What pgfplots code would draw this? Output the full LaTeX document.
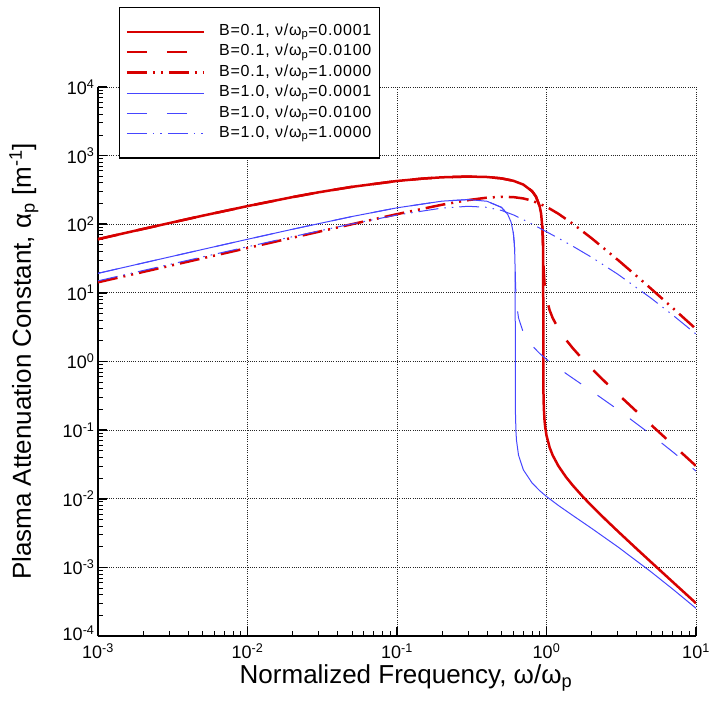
\documentclass[border=0pt]{standalone}
\usepackage{fontspec}
\setmainfont{Liberation Sans}
\newfontfamily\legfont[LetterSpace=5]{Liberation Sans}
\usepackage{pgfplots}
\pgfplotsset{compat=1.18}
\definecolor{cred}{RGB}{215,0,0}
\definecolor{cblue}{RGB}{70,70,255}
\begin{document}
\begin{tikzpicture}
\begin{axis}[
 scale only axis, width=598pt, height=549pt,
 xmode=log, ymode=log,
 xmin=1e-3, xmax=10, ymin=1e-4, ymax=1e4,
 axis x line*=bottom, axis y line*=left,
 axis line style={line width=2pt,-},
 xtick={0.001,0.01,0.1,1,10},
 xticklabels={10\textsuperscript{-3},10\textsuperscript{-2},10\textsuperscript{-1},10\textsuperscript{0},10\textsuperscript{1}},
 ytick={1e-4,1e-3,1e-2,1e-1,1,10,100,1000,10000},
 yticklabels={\raisebox{5pt}{10\textsuperscript{-4}},10\textsuperscript{-3},10\textsuperscript{-2},10\textsuperscript{-1},10\textsuperscript{0},10\textsuperscript{1},10\textsuperscript{2},10\textsuperscript{3},10\textsuperscript{4}},
 minor xtick={0.002,0.003,0.004,0.005,0.006,0.007,0.008,0.009,0.02,0.03,0.04,0.05,0.06,0.07,0.08,0.09,0.2,0.3,0.4,0.5,0.6,0.7,0.8,0.9,2,3,4,5,6,7,8,9},
 minor ytick={2e-4,3e-4,4e-4,5e-4,6e-4,7e-4,8e-4,9e-4,2e-3,3e-3,4e-3,5e-3,6e-3,7e-3,8e-3,9e-3,2e-2,3e-2,4e-2,5e-2,6e-2,7e-2,8e-2,9e-2,0.2,0.3,0.4,0.5,0.6,0.7,0.8,0.9,2,3,4,5,6,7,8,9,20,30,40,50,60,70,80,90,200,300,400,500,600,700,800,900,2000,3000,4000,5000,6000,7000,8000,9000},
 tick align=inside,
 major tick length=9pt, minor tick length=5pt,
 every major tick/.append style={line width=1.6pt, black},
 every minor tick/.append style={line width=0.9pt, black},
 grid=major,
 major grid style={black!85, line width=0.9pt, dash pattern=on 1pt off 1.2pt},
 tick label style={font=\fontsize{18}{18}\selectfont},
 xticklabel style={yshift=-4pt},
 xlabel={Normalized Frequency, ω/ω\textsubscript{p}},
 ylabel={Plasma Attenuation Constant, α\textsubscript{p} [m\textsuperscript{-1}]},
 label style={font=\fontsize{26}{26}\selectfont},
 xlabel style={at={(axis description cs:0.515,-0.0767)}, anchor=center},
 ylabel style={at={(axis description cs:-0.124,0.5)}, anchor=center},
 legend style={at={(axis description cs:0.0351,1.1457)}, anchor=north west, draw=black, line width=1.2pt, fill=white,
   font=\legfont\fontsize{16}{16}\selectfont, inner xsep=6pt, inner ysep=14pt, row sep=0pt,
   nodes={inner ysep=3pt, text height=10.8pt, text depth=3.6pt},
   /tikz/every odd column/.append style={column sep=12pt}},
 legend cell align=left,
 legend image code/.code={\draw[#1] (0pt,0pt) -- (77pt,0pt);},
]
\addplot[cred, line width=2.5pt, line join=round] coordinates {
(0.001,60.7) (0.002,85.4) (0.005,133.1) (0.01,183.8) (0.02,248.7) (0.03,292.5) (0.05,350.8) (0.1,427) (0.15,463.6) (0.2,482.9) (0.3,495.6) (0.4,488) (0.5,466) (0.6,430) (0.7,378.5) (0.8,304.3) (0.85,253.2) (0.9,183) (0.92,143.8) (0.94,86.8) (0.945,64.8) (0.948,46.8) (0.95,29.0) (0.9505,22.5) (0.951,13.0) (0.9512,6.33) (0.95125,4.0) (0.9513,2.53) (0.9515,1.233) (0.952,0.711) (0.955,0.317) (0.96,0.2064) (0.97,0.1394) (0.98,0.1113) (1.0,0.0836) (1.05,0.05563) (1.1,0.04302) (1.2,0.03012) (1.35,0.02074) (1.5,0.0156) (1.75,0.01072) (2,0.007923) (2.5,0.004905) (3,0.00336) (4,0.001872) (5,0.001196) (7,0.0006112) (10,0.0003005)
};
\addlegendentry{B=0.1, ν/ω\textsubscript{p}=0.0001}
\addplot[cred, line width=2.5pt, dash pattern=on 20pt off 20pt] coordinates {
(0.001,60.5) (0.002,85.3) (0.005,133) (0.01,183.3) (0.02,248.5) (0.03,292.4) (0.05,350.7) (0.1,427) (0.15,463.6) (0.2,482.9) (0.3,495.6) (0.4,488) (0.5,466) (0.6,430) (0.7,378.5) (0.8,304.3) (0.85,253.2) (0.9,183.1) (0.92,144.1) (0.94,88.5) (0.95,45.4) (0.955,27.66) (0.96,19.94) (0.97,13.82) (0.98,11.09) (0.99,9.45) (1.0,8.35) (1.05,5.563) (1.1,4.302) (1.2,3.012) (1.35,2.074) (1.5,1.56) (1.75,1.072) (2,0.7923) (2.5,0.4905) (3,0.336) (4,0.1872) (5,0.1196) (7,0.06112) (10,0.03005)
};
\addlegendentry{B=0.1, ν/ω\textsubscript{p}=0.0100}
\addplot[cred, line width=2.5pt, dash pattern=on 20pt off 6pt on 2pt off 6pt on 2pt off 6pt] coordinates {
(0.001,14.27) (0.002,20.17) (0.005,31.88) (0.01,45.07) (0.02,63.66) (0.05,100.2) (0.1,140.3) (0.2,192.5) (0.3,225.1) (0.4,244) (0.5,251.3) (0.6,248.6) (0.7,237.6) (0.8,220.7) (1.0,179.8) (1.2,142.3) (1.5,101.5) (2,62.7) (3,30.26) (4,17.64) (5,11.51) (7,5.992) (10,2.976)
};
\addlegendentry{B=0.1, ν/ω\textsubscript{p}=1.0000}
\addplot[cblue, line width=1pt] coordinates {
(0.001,19.27) (0.002,27.23) (0.005,42.92) (0.01,60.39) (0.02,84.54) (0.05,129.6) (0.1,173.5) (0.2,217.1) (0.3,228.9) (0.4,216.3) (0.5,176.1) (0.55,139.6) (0.58,106.9) (0.6,74.7) (0.61,50.2) (0.615,30.98) (0.617,18.1) (0.6175,13.0) (0.6178,8.63) (0.618,3.52) (0.61803,2.10) (0.6181,0.931) (0.619,0.2506) (0.62,0.1756) (0.625,0.0931) (0.63,0.07093) (0.65,0.04309) (0.7,0.02641) (0.8,0.01703) (0.9,0.01311) (1.0,0.01078) (1.2,0.007995) (1.5,0.005699) (2,0.003712) (3,0.001991) (5,0.0008617) (7,0.0004809) (10,0.0002532)
};
\addlegendentry{B=1.0, ν/ω\textsubscript{p}=0.0001}
\addplot[cblue, line width=1pt, dash pattern=on 20pt off 20pt] coordinates {
(0.001,19.27) (0.002,27.23) (0.005,42.92) (0.01,60.39) (0.02,84.54) (0.05,129.6) (0.1,173.5) (0.2,217.1) (0.3,228.9) (0.4,216.3) (0.5,176.1) (0.55,139.6) (0.58,106.9) (0.6,74.9) (0.61,50.9) (0.615,33.55) (0.618,21.02) (0.62,15.03) (0.625,9.134) (0.63,7.044) (0.65,4.308) (0.7,2.641) (0.8,1.703) (0.9,1.311) (1.0,1.078) (1.2,0.7995) (1.5,0.5699) (2,0.3712) (3,0.1991) (5,0.08617) (7,0.04809) (10,0.02532)
};
\addlegendentry{B=1.0, ν/ω\textsubscript{p}=0.0100}
\addplot[cblue, line width=1pt, dash pattern=on 20pt off 6pt on 1.5pt off 6pt on 1.5pt off 6pt] coordinates {
(0.001,14.97) (0.002,21.16) (0.005,33.37) (0.01,46.98) (0.02,65.86) (0.05,101.3) (0.1,136.4) (0.2,172.0) (0.3,182.7) (0.4,176.5) (0.5,159.0) (0.6,137.0) (0.7,116.8) (0.8,100.6) (1.0,77.7) (1.2,62.7) (1.5,47.85) (2,33.06) (3,18.69) (5,8.38) (7,4.734) (10,2.511)
};
\addlegendentry{B=1.0, ν/ω\textsubscript{p}=1.0000}
\end{axis}
\pgfresetboundingbox
\path[use as bounding box] (current axis.south west) ++(-98pt,-67pt) rectangle ++(709pt,703pt);
\end{tikzpicture}
\end{document}
